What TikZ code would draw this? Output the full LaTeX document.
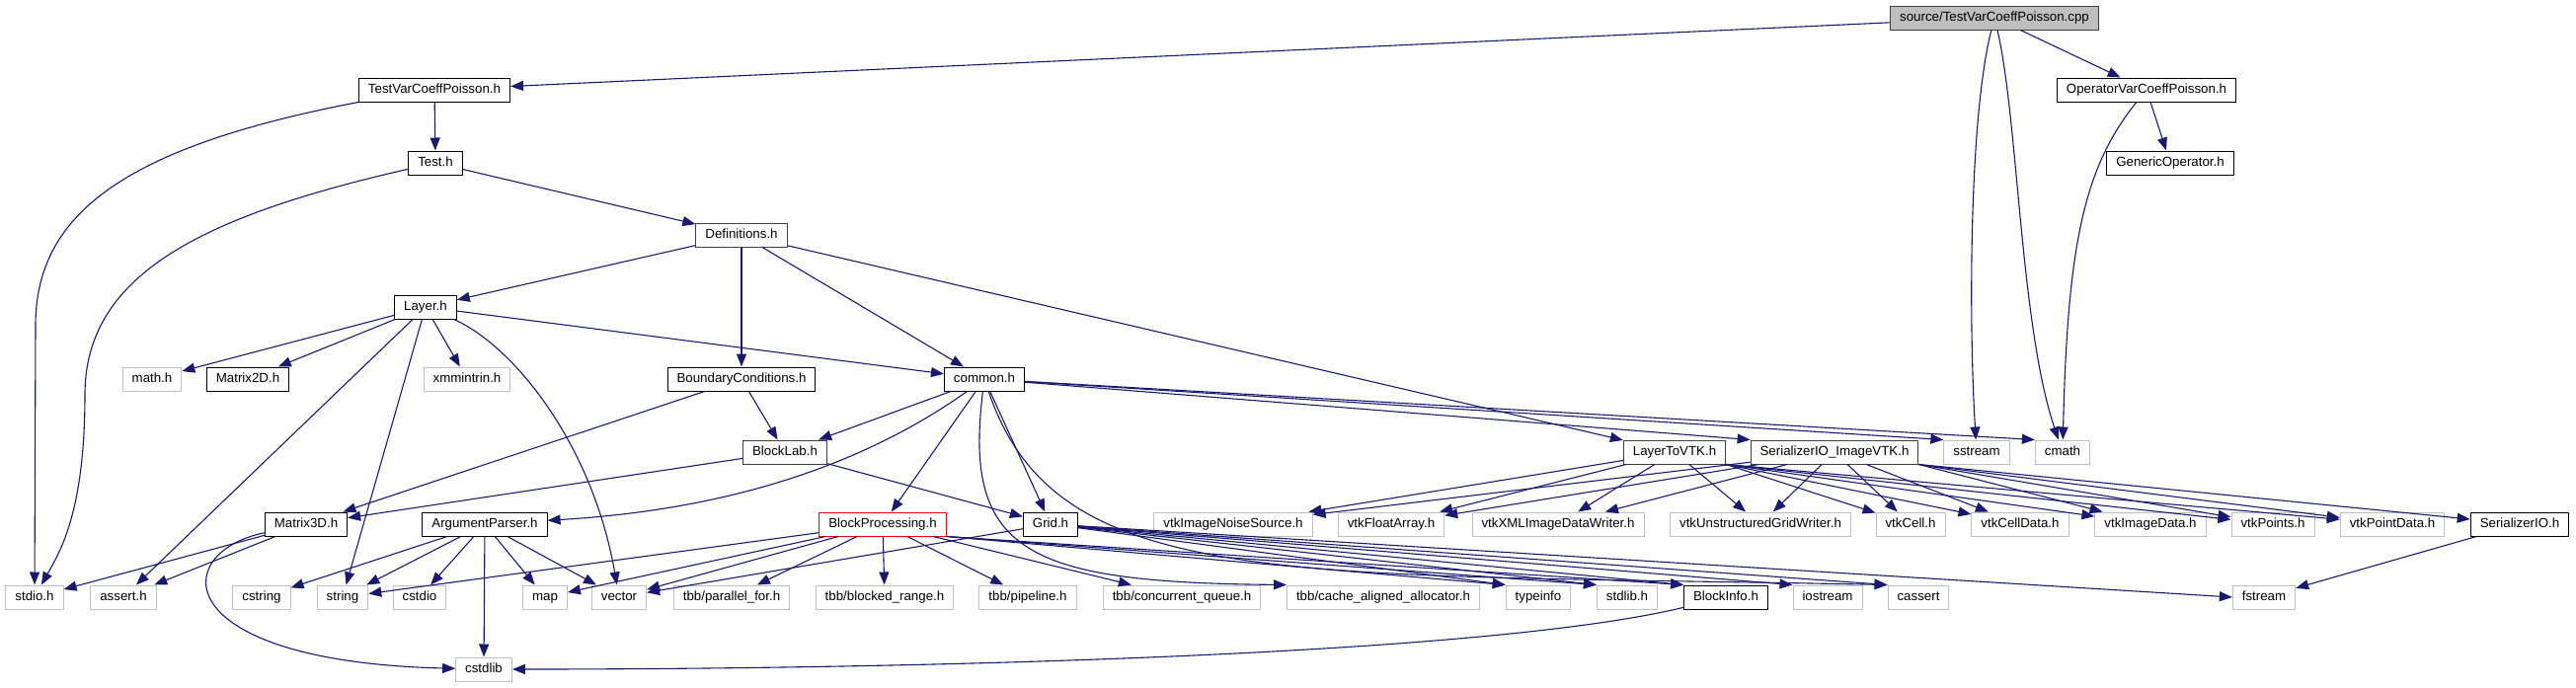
\documentclass[tikz,border=0pt]{standalone}
\usepackage{fontspec}
\setmainfont{Liberation Sans}
\usetikzlibrary{arrows.meta}
\definecolor{edge1}{HTML}{191970}
\definecolor{grey1}{HTML}{BFBFBF}
\definecolor{grey2}{HTML}{404040}

\begin{document}
\begin{tikzpicture}[x=1pt,y=-1pt,font=\fontsize{13.3}{16}\selectfont,
  inc/.style={draw=black,line width=1pt,fill=white,inner xsep=9.5pt,inner ysep=0pt,minimum height=24pt,text height=9.6pt,text depth=2.8pt},
  sys/.style={inc,draw=grey1}, doc/.style={inc,draw=grey2}, trunc/.style={inc,draw=red},
  root/.style={inc,draw=grey2,fill=grey1},
  dep/.style={draw=edge1,line width=1.1pt,-{Triangle[length=13pt,width=10pt]}}]
  \useasboundingbox (0,0) rectangle (2609,696);
  % upper ranks
  \node[root] (src) at (2020,18) {source/TestVarCoeffPoisson.cpp};
  \node[inc] (tvcp) at (440,91) {TestVarCoeffPoisson.h}; \node[inc] (ovcp) at (2174,91) {OperatorVarCoeffPoisson.h};
  \node[inc] (test) at (441,165) {Test.h}; \node[inc] (genop) at (2198,165) {GenericOperator.h};
  \node[doc] (defs) at (751,238) {Definitions.h};
  \node[inc] (layer) at (431,311) {Layer.h};
  \node[sys] (mathh) at (154,384) {math.h}; \node[inc] (m2d) at (251,384) {Matrix2D.h}; \node[sys] (xmm) at (473,384) {xmmintrin.h};
  \node[inc] (bc) at (751,384) {BoundaryConditions.h}; \node[inc] (common) at (997,384) {common.h};
  \node[doc] (blab) at (795,458) {BlockLab.h}; \node[doc] (l2v) at (1696,458) {LayerToVTK.h};
  \node[doc] (sivtk) at (1858,458) {SerializerIO\_ImageVTK.h};
  \node[sys] (sstr) at (2002,458) {sstream}; \node[sys] (cmath) at (2089,458) {cmath};
  % rank of Matrix3D.h and the vtk headers
  \node[inc] (m3d) at (310,531) {Matrix3D.h}; \node[inc] (argp) at (491,531) {ArgumentParser.h};
  \node[trunc] (bproc) at (894,531) {BlockProcessing.h}; \node[inc] (grid) at (1064,531) {Grid.h};
  \node[sys] (vnoise) at (1249,531) {vtkImageNoiseSource.h}; \node[sys] (vfloat) at (1409,531) {vtkFloatArray.h};
  \node[sys] (vxml) at (1578,531) {vtkXMLImageDataWriter.h}; \node[sys] (vugw) at (1783,531) {vtkUnstructuredGridWriter.h};
  \node[sys] (vcell) at (1935,531) {vtkCell.h}; \node[sys] (vcelld) at (2046,531) {vtkCellData.h};
  \node[sys] (vimg) at (2178,531) {vtkImageData.h}; \node[sys] (vpts) at (2302,531) {vtkPoints.h};
  \node[sys] (vptd) at (2423,531) {vtkPointData.h}; \node[inc] (sio) at (2552,531) {SerializerIO.h};
  % bottom ranks
  \node[sys] (stdio) at (35,605) {stdio.h}; \node[sys] (assrt) at (125,605) {assert.h}; \node[sys] (cstr) at (265,605) {cstring};
  \node[sys] (str) at (347,605) {string}; \node[sys] (cstdio) at (425,605) {cstdio}; \node[sys] (map) at (552,605) {map};
  \node[sys] (vec) at (627,605) {vector}; \node[sys] (tbbpf) at (741,605) {tbb/parallel\_for.h};
  \node[sys] (tbbbr) at (896,605) {tbb/blocked\_range.h}; \node[sys] (tbbpl) at (1041,605) {tbb/pipeline.h};
  \node[sys] (tbbcq) at (1197,605) {tbb/concurrent\_queue.h}; \node[sys] (tbbca) at (1401,605) {tbb/cache\_aligned\_allocator.h};
  \node[sys] (tinfo) at (1558,605) {typeinfo}; \node[sys] (stdlib) at (1648,605) {stdlib.h}; \node[inc] (binfo) at (1748,605) {BlockInfo.h};
  \node[sys] (ios) at (1851,605) {iostream}; \node[sys] (cassert) at (1943,605) {cassert}; \node[sys] (fstream) at (2293,605) {fstream};
  \node[sys] (cstdlib) at (490,678) {cstdlib};
  % includes
  \draw[dep] (src) -- (tvcp); \draw[dep] (src) -- (ovcp);
  \draw[dep] (src) .. controls (1994,120) and (1994,330) .. (sstr);
  \draw[dep] (src) .. controls (2044,120) and (2046,330) .. (cmath);
  \draw[dep] (ovcp) .. controls (2110,170) and (2094,250) .. (cmath); \draw[dep] (ovcp) -- (genop);
  \draw[dep] (tvcp) -- (test);
  \draw[dep] (tvcp.south west) .. controls (120,150) and (36,220) .. (36,330) -- (stdio);
  \draw[dep] (test) .. controls (200,220) and (86,280) .. (86,400) .. controls (86,520) and (60,560) .. (stdio);
  \draw[dep] (test) -- (defs);
  \foreach \dst in {layer,bc,common,l2v} \draw[dep] (defs) -- (\dst);
  \foreach \dst in {mathh,m2d,xmm,common,assrt,str} \draw[dep] (layer) -- (\dst);
  \draw[dep] (layer) .. controls (520,350) and (600,450) .. (vec);
  \foreach \dst in {blab,m3d} \draw[dep] (bc) -- (\dst);
  \foreach \dst in {blab,bproc,grid} \draw[dep] (common) -- (\dst);
  \foreach \dst in {sivtk,sstr,cmath} \draw[dep] (common) -- (\dst.north west);
  \draw[dep] (common) .. controls (890,460) and (760,515) .. (argp);
  \draw[dep] (common) .. controls (975,560) and (1040,590) .. (tbbca.north west);
  \draw[dep] (common) .. controls (1070,600) and (1300,580) .. (cassert.north west);
  \foreach \dst in {m3d,grid} \draw[dep] (blab) -- (\dst);
  \foreach \dst in {stdio,assrt} \draw[dep] (m3d) -- (\dst);
  \draw[dep] (m3d) .. controls (170,560) and (170,670) .. (cstdlib);
  \foreach \dst in {cstr,str,cstdio,map,vec,cstdlib} \draw[dep] (argp) -- (\dst);
  \foreach \dst in {str,map,vec,tbbpf,tbbbr,tbbpl,tbbcq} \draw[dep] (bproc) -- (\dst);
  \foreach \dst in {tinfo,stdlib,binfo} \draw[dep] (bproc.south east) -- (\dst.north west);
  \draw[dep] (grid) -- (vec); \draw[dep] (grid) -- (fstream.west);
  \foreach \dst in {tinfo,stdlib,binfo,ios,cassert} \draw[dep] (grid) -- (\dst.north west);
  \draw[dep] (binfo) .. controls (1500,665) and (900,678) .. (cstdlib);
  % vtk fan
  \foreach \dst in {vnoise,vfloat,vxml,vugw} \draw[dep] (l2v) -- (\dst);
  \foreach \dst in {vcell,vcelld,vimg,vpts,vptd} \draw[dep] (l2v.south east) -- (\dst);
  \foreach \dst in {vnoise,vfloat,vxml,vugw,vcell,vcelld} \draw[dep] (sivtk) -- (\dst);
  \foreach \dst in {vimg,vpts,vptd,sio} \draw[dep] (sivtk.south east) -- (\dst);
  \draw[dep] (sio) -- (fstream);
\end{tikzpicture}
\end{document}
